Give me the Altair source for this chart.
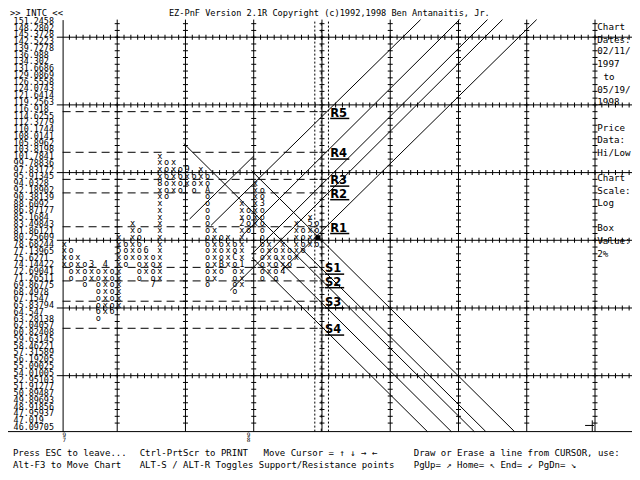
import altair as alt
import pandas as pd

# ---------------- data ----------------
price_labels = ["46.09705","47.019","47.95937","48.91856","49.89693","50.89487","51.91277",
    "52.95103","54.01005","55.09025","56.19205","57.31589","58.46221","59.63145","60.82408",
    "62.04057","63.28138","64.547","65.83794","67.1547","68.4978","69.86775","71.26511",
    "72.69041","74.14422","75.6271","77.13965","78.68244","80.25609","81.86121","83.49843",
    "85.1684","86.87177","88.6092","90.38139","92.18902","94.0328","95.91345","97.83172",
    "99.78836","101.7841","103.8198","105.8962","108.0141","110.1744","112.3779","114.6255",
    "116.918","119.2563","121.6414","124.0743","126.5558","129.0869","131.6686","134.302",
    "136.988","139.7278","142.5223","145.3728","148.2802","151.2458"]

# point & figure columns: column number, kind, lowest box, highest box
pnf_col   = [0, 1, 2, 3, 4, 5, 6, 7, 8, 9, 10, 11, 12, 13, 14, 15, 16, 17, 18, 19, 20,
             21, 22, 23, 24, 25, 26, 27, 28, 29, 30, 31, 32, 33, 34, 35, 36, 37]
pnf_kind  = ["x","o","x","o","x","o","x","o","x","o","x","o","x","o","x","o","x","o","x","o","x",
             "o","x","o","x","o","x","o","x","o","x","o","x","o","x","o","x","o"]
pnf_low   = [24, 22, 23, 21, 22, 16, 17, 17, 18, 24, 25, 22, 23, 21, 22, 34, 35, 35, 36, 35, 36,
             21, 22, 23, 24, 20, 21, 29, 30, 22, 23, 22, 23, 24, 25, 26, 27, 27]
pnf_high  = [27, 26, 25, 24, 24, 23, 24, 23, 28, 27, 30, 29, 26, 25, 40, 39, 39, 38, 38, 37, 38,
             37, 29, 28, 28, 27, 33, 32, 36, 35, 27, 26, 27, 26, 30, 29, 31, 30]

# month markers (column, box, symbol)
mark_col = [4, 6, 8, 12, 13, 14, 18, 21, 23, 25, 26, 26, 29, 32, 36]
mark_box = [24, 24, 26, 26, 21, 36, 38, 35, 24, 25, 24, 30, 33, 23, 30]
mark_sym = ["3", "4", "5", "6", "7", "8", "9", "A", "B", "C", "1", "2", "3", "4", "5"]

# year markers under the chart
year_col = [0, 27]
year_txt = [["9", "7"], ["9", "8"]]

# support / resistance levels (box units)
sr_name = ["R5", "R4", "R3", "R2", "R1", "S1", "S2", "S3", "S4"]
sr_box  = [46.5, 40.5, 36.5, 34.5, 29.5, 23.5, 21.5, 18.5, 14.5]

# 45 degree trend lines: start (col, box) -> end (col, box)
tl_c0 = [17.5, 27.4, 27.5, 31.04, 34.6, 21.5, 18.36, 26.07, 27.5, 24.3, 31.76]
tl_b0 = [41.8, 37.8, 24.95, 24.93, 26.4, 29.7, 30.64, 28.2, 25.5, 20.1, 22.96]
tl_c1 = [60.06, 65.96, 53.2, 56.7, 61.76, 52.2, 27.76, 57.9, 62.0, 64.2, 69.2]
tl_b1 = [-0.76, -0.76, -0.76, -0.76, -0.76, 60.1, 39.96, 60.1, 60.1, 60.1, 60.1]

# ---------------- geometry (screen layout in chart units) ----------------
X0, X1 = -0.25, 77.75      # plot columns
Y0, Y1 = -0.76, 60.1       # plot boxes
W, H = 532.4, 412.0

xs = alt.Scale(domain=[X0, X1], nice=False, zero=False)
ys = alt.Scale(domain=[Y0, Y1], nice=False, zero=False)
label_expr = "[" + ",".join("'%s'" % s for s in price_labels) + "][datum.value]"
yaxis = alt.Axis(values=list(range(len(price_labels))), labelExpr=label_expr,
                 orient="left", domain=True, domainColor="black", domainWidth=1,
                 ticks=False, grid=False, labelAlign="left", labelBaseline="middle",
                 labelPadding=49.5, labelFont="DejaVu Sans Mono", labelFontSize=8.4,
                 labelColor="black", labelOverlap=False, title=None)

def X(f):
    return alt.X(f + ":Q", scale=xs, axis=None)

def Y(f):
    return alt.Y(f + ":Q", scale=ys, axis=yaxis)

FONT = "DejaVu Sans Mono"

# characters
rows = []
for c, k, lo, hi in zip(pnf_col, pnf_kind, pnf_low, pnf_high):
    for b in range(lo, hi + 1):
        rows.append({"c": c, "b": b, "t": k})
chars = pd.DataFrame(rows)
for c, b, s in zip(mark_col, mark_box, mark_sym):
    chars.loc[(chars.c == c) & (chars.b == b), "t"] = s

# grid
grid_v_cols = [7.75 + 10 * i for i in range(7)] + [77.75]
grid_h_boxes = [7.5 + 10 * i for i in range(6)]
vlines = pd.DataFrame({"c": grid_v_cols, "b0": Y0, "b1": Y1})
hlines = pd.DataFrame({"b": grid_h_boxes, "c0": -1.1, "c1": 83.2})
tick_h = pd.DataFrame([{"c": k + 0.75, "b": b} for b in grid_h_boxes for k in range(0, 83)])
tick_v = pd.DataFrame([{"c": c, "b": k + 0.5} for c in grid_v_cols for k in range(0, 60)])

L = []
L.append(alt.Chart(vlines).mark_rule(color="black", strokeWidth=1).encode(
    x=X("c"), y=Y("b0"), y2="b1"))
L.append(alt.Chart(hlines).mark_rule(color="black", strokeWidth=1).encode(
    x=X("c0"), x2="c1", y=Y("b")))
L.append(alt.Chart(pd.DataFrame({"b": [Y0], "c0": [-8.3], "c1": [83.3]}))
         .mark_rule(color="black", strokeWidth=1).encode(x=X("c0"), x2="c1", y=Y("b")))
L.append(alt.Chart(tick_h).mark_tick(orient="vertical", size=5, thickness=1,
         color="black", opacity=1).encode(x=X("c"), y=Y("b")))
L.append(alt.Chart(tick_v).mark_tick(orient="horizontal", size=5, thickness=1,
         color="black", opacity=1).encode(x=X("c"), y=Y("b")))

# dotted cursor column
dots = pd.DataFrame({"c": [36.7, 38.7], "b0": Y0, "b1": Y1})
L.append(alt.Chart(dots).mark_rule(color="black", strokeWidth=1, strokeDash=[2, 2]).encode(
    x=X("c"), y=Y("b0"), y2="b1"))
L.append(alt.Chart(pd.DataFrame({"c": [37.65], "b0": [Y0], "b1": [Y1]}))
         .mark_rule(color="black", strokeWidth=1, strokeDash=[3, 4]).encode(
    x=X("c"), y=Y("b0"), y2="b1"))

# support/resistance dashed lines
sr = pd.DataFrame({"name": sr_name, "b": sr_box})
sr["c0"] = -0.25
sr["c1"] = [38.4 if n.startswith("R") else 37.5 for n in sr_name]
sr["lc"] = [38.95 if n.startswith("R") else 38.2 for n in sr_name]
sr["lb"] = sr.b - 0.3
sr["ub"] = sr.b - 1.0
sr["u1"] = sr.lc + 2.8
L.append(alt.Chart(sr).mark_rule(color="black", strokeWidth=1, strokeDash=[8, 5]).encode(
    x=X("c0"), x2="c1", y=Y("b")))
L.append(alt.Chart(sr).mark_text(font="DejaVu Sans", fontWeight="bold", fontSize=11.5,
         align="left", baseline="middle", color="black").encode(
    x=X("lc"), y=Y("lb"), text="name:N"))
L.append(alt.Chart(sr).mark_rule(color="black", strokeWidth=1.5).encode(
    x=X("lc"), x2="u1", y=Y("ub")))

# trend lines
tl = pd.DataFrame({"c0": tl_c0, "b0": tl_b0, "c1": tl_c1, "b1": tl_b1})
L.append(alt.Chart(tl).mark_rule(color="black", strokeWidth=1).encode(
    x=X("c0"), y=Y("b0"), x2="c1", y2="b1"))

# P&F characters
L.append(alt.Chart(chars).mark_text(font=FONT, fontSize=8.6, align="center",
         baseline="middle", color="black").encode(
    x=X("c"), y=Y("b"), text="t:N"))

# cursor block and crosshair
L.append(alt.Chart(pd.DataFrame({"c": [37.2], "b": [27.9]})).mark_square(
    size=22, color="black", opacity=1, filled=True).encode(x=X("c"), y=Y("b")))
cross = pd.DataFrame({"c0": [76.3, 77.35], "c1": [77.6, 77.35], "b0": [0.15, 0.9], "b1": [0.15, -0.76]})
L.append(alt.Chart(cross).mark_rule(color="black", strokeWidth=1).encode(
    x=X("c0"), x2="c1", y=Y("b0"), y2="b1"))

# year markers
yr = pd.DataFrame([{"c": c, "b": b, "t": t[i]} for c, t in zip(year_col, year_txt)
                   for i, b in enumerate([-1.25, -1.95])])
L.append(alt.Chart(yr).mark_text(font=FONT, fontSize=6, align="center",
         baseline="middle", color="black").encode(x=X("c"), y=Y("b"), text="t:N"))

# screen texts
scr_txt = [">> INTC <<", "EZ-PnF Version 2.1R Copyright (c)1992,1998 Ben Antanaitis, Jr.",
           "Press ESC to leave...", "Ctrl-PrtScr to PRINT", "Move Cursor = \u2191 \u2193 \u2192 \u2190",
           "Draw or Erase a line from CURSOR, use:",
           "Alt-F3 to Move Chart", "ALT-S / ALT-R Toggles Support/Resistance points",
           "PgUp= \u2197 Home= \u2196 End= \u2199 PgDn= \u2198",
           "Chart", "Dates:", "02/11/", "1997", "to", "05/19/", "1998",
           "Price", "Data:", "Hi/Low", "Chart", "Scale:", "Log", "Box", "Value:", "2%"]
scr_c = [-7.96, 15.33, -7.53, 11.04, 29.19, 51.19, -7.53, 11.04, 51.19,
         78.09, 78.09, 78.09, 78.09, 79.0, 78.09, 78.09, 78.09, 78.09, 78.09,
         78.09, 78.09, 78.09, 78.09, 78.09, 78.09]
scr_b = [61.1, 61.1, -3.9, -3.9, -3.9, -3.9, -5.71, -5.71, -5.71,
         59.06, 57.14, 55.39, 53.49, 51.57, 49.67, 47.86, 44.1, 42.29, 40.39,
         36.71, 34.81, 33.0, 29.29, 27.43, 25.53]
scr_s = [8.8, 8.6, 9, 9, 9, 9, 9, 9, 9] + [9.2] * 16
scr = pd.DataFrame({"t": scr_txt, "c": scr_c, "b": scr_b, "s": scr_s})
L.append(alt.Chart(scr).mark_text(font=FONT, align="left", baseline="middle",
         color="black").encode(x=X("c"), y=Y("b"), text="t:N",
         size=alt.Size("s:Q", scale=None, legend=None)))

chart = alt.layer(*L).properties(
    width=W, height=H, background="white",
    padding={"left": 54.6, "top": 11.6, "right": 37.0, "bottom": 40.4},
    autosize=alt.AutoSizeParams(type="none"),
).configure_view(strokeWidth=0)

chart.save("out.html", embed_options={"renderer": "svg", "actions": False})
